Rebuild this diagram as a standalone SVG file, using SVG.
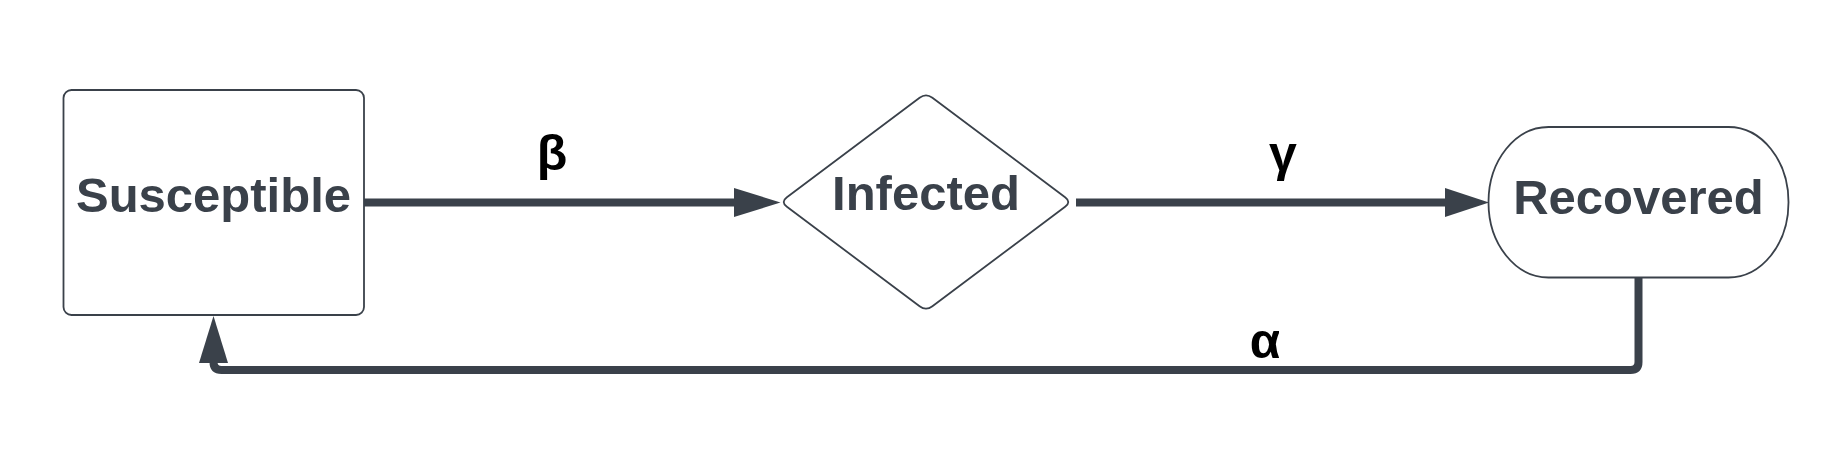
<svg xmlns="http://www.w3.org/2000/svg" width="1845" height="469" viewBox="0 0 1845 469">
  <style>
    .node { fill: #ffffff; stroke: #3a414a; stroke-width: 1.8; }
    .ntext { font-family: "Liberation Sans", Arial, sans-serif; font-weight: bold; font-size: 49px; fill: #3a414a; text-anchor: middle; }
    .lbl { font-family: "Liberation Sans", Arial, sans-serif; font-weight: bold; font-size: 50px; fill: #000000; text-anchor: middle; }
    .edge { fill: none; stroke: #3a414a; stroke-width: 8; }
    .head { fill: #3a414a; stroke: none; }
  </style>
  <defs>
    <clipPath id="alphaClip">
      <rect x="1230" y="300" width="49" height="80"/>
    </clipPath>
  </defs>
  <rect x="0" y="0" width="1845" height="469" fill="#ffffff"/>

  <g id="connectors">
    <g id="edge-beta">
      <line class="edge" x1="364" y1="202.5" x2="736" y2="202.5"/>
      <polygon class="head" points="734,188 780.5,202.5 734,217"/>
      <text class="lbl" x="552" y="170">β</text>
    </g>
    <g id="edge-gamma">
      <line class="edge" x1="1076" y1="202.5" x2="1447" y2="202.5"/>
      <polygon class="head" points="1445,188 1489,202.5 1445,217"/>
      <text class="lbl" x="1283" y="171">γ</text>
    </g>
    <g id="edge-alpha">
      <path class="edge" d="M 1638.5,277 V 362 Q 1638.5,370 1630.5,370 H 221.5 Q 213.5,370 213.5,362 V 360"/>
      <polygon class="head" points="199,363 213.5,316 228,363"/>
      <text class="lbl" x="1265" y="358" clip-path="url(#alphaClip)">α</text>
    </g>
  </g>

  <g id="node-susceptible">
    <rect class="node" x="63.5" y="90" width="300.5" height="225" rx="8" ry="8"/>
    <text class="ntext" x="213.5" y="212">Susceptible</text>
  </g>

  <g id="node-infected">
    <path class="node" d="M 786.9,197.2 L 919.6,97.8 Q 926,93 932.4,97.8 L 1065.1,197.2 Q 1071.5,202 1065.1,206.8 L 932.4,306.2 Q 926,311 919.6,306.2 L 786.9,206.8 Q 780.5,202 786.9,197.2 Z"/>
    <text class="ntext" x="926" y="210">Infected</text>
  </g>

  <g id="node-recovered">
    <rect class="node" x="1488.5" y="127" width="300" height="150.5" rx="60" ry="75"/>
    <text class="ntext" x="1638.5" y="214">Recovered</text>
  </g>
</svg>
